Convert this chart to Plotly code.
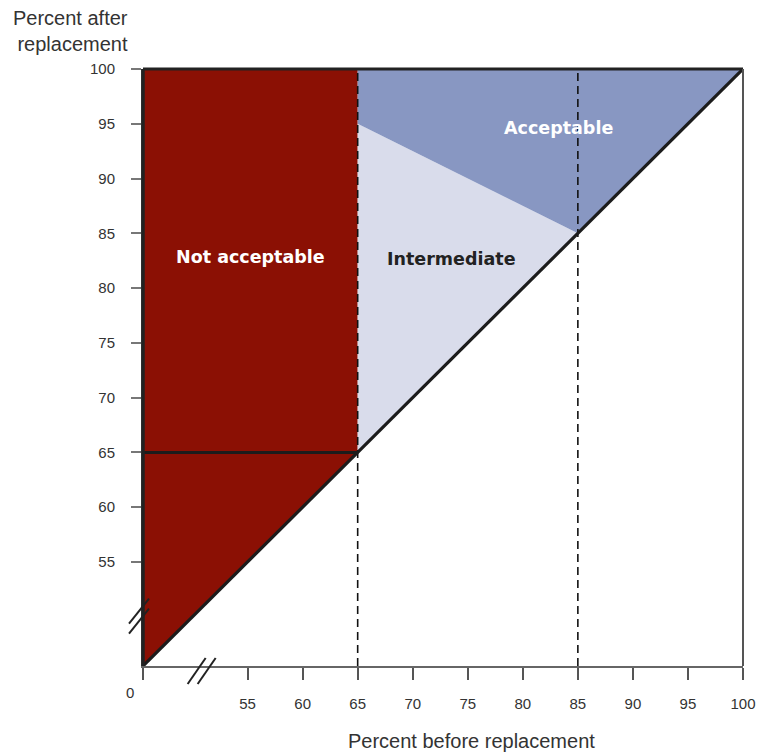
import plotly.graph_objects as go

# ---- data ----
axis_start = 45.5            # position of the broken-axis origin ("0")
axis_end = 100
tick_values = [55, 60, 65, 70, 75, 80, 85, 90, 95, 100]
tick_labels = ["55", "60", "65", "70", "75", "80", "85", "90", "95", "100"]
low_cut = 65                 # below this "before" value -> not acceptable
high_cut = 85                # dashed guide
acc_line_x = [65, 85]        # boundary between intermediate and acceptable
acc_line_y = [95, 85]

red_x = [axis_start, axis_start, low_cut, low_cut, axis_start]
red_y = [axis_start, axis_end, axis_end, low_cut, axis_start]
mid_x = [low_cut, acc_line_x[0], acc_line_x[1], low_cut]
mid_y = [low_cut, acc_line_y[0], acc_line_y[1], low_cut]
acc_x = [acc_line_x[0], acc_line_x[0], axis_end, acc_line_x[1], acc_line_x[0]]
acc_y = [acc_line_y[0], axis_end, axis_end, acc_line_y[1], acc_line_y[0]]

region_labels = ["Not acceptable", "Intermediate", "Acceptable"]
label_x = [55.3, 73.5, 83.2]
label_y = [82.8, 82.7, 94.6]
label_colors = ["white", "#222222", "white"]

RED = "#8B1004"
BLUE = "#8897C2"
LIGHT = "#D9DCEB"
FONT = "Liberation Sans, Arial, sans-serif"
BOLD_FONT = "DejaVu Sans, sans-serif"

W, H = 761, 752
ML, MR, MT, MB = 143, 18, 69, 86
PW, PH = W - ML - MR, H - MT - MB
span = axis_end - axis_start

fig = go.Figure()
fig.add_trace(go.Scatter(x=red_x, y=red_y, fill="toself", fillcolor=RED,
                         line=dict(width=0), mode="lines", hoverinfo="skip"))
fig.add_trace(go.Scatter(x=mid_x, y=mid_y, fill="toself", fillcolor=LIGHT,
                         line=dict(width=0), mode="lines", hoverinfo="skip"))
fig.add_trace(go.Scatter(x=acc_x, y=acc_y, fill="toself", fillcolor=BLUE,
                         line=dict(width=0), mode="lines", hoverinfo="skip"))
# dashed guides
for xv in [low_cut, high_cut]:
    fig.add_trace(go.Scatter(x=[xv, xv], y=[axis_start, axis_end], mode="lines",
                             line=dict(color="#111111", width=1.6, dash="8px,5px"),
                             hoverinfo="skip"))
# diagonal and horizontal lines
fig.add_trace(go.Scatter(x=[axis_start, axis_end], y=[axis_start, axis_end], mode="lines",
                         line=dict(color="#1c1c1c", width=3.2), hoverinfo="skip"))
fig.add_trace(go.Scatter(x=[axis_start, low_cut], y=[low_cut, low_cut], mode="lines",
                         line=dict(color="#1c1c1c", width=3), hoverinfo="skip"))

for t, xv, yv, c in zip(region_labels, label_x, label_y, label_colors):
    fig.add_annotation(x=xv, y=yv, text="<b>" + t + "</b>", showarrow=False,
                       font=dict(family=BOLD_FONT, size=17.5, color=c))

# frame: left thick black, top black, right grey
shapes = [
    dict(type="line", xref="paper", yref="paper", x0=0, x1=0, y0=0, y1=1,
         line=dict(color="#222222", width=3.5)),
    dict(type="line", xref="paper", yref="paper", x0=0, x1=1, y0=1, y1=1,
         line=dict(color="#222222", width=3)),
    dict(type="line", xref="paper", yref="paper", x0=1, x1=1, y0=0, y1=1,
         line=dict(color="#555555", width=2)),
]
# axis break marks (paper coords, so they are not clipped)
ybreak_anchor = 50.2
xbreak_anchor = 51.1
yb = (ybreak_anchor - axis_start) / span
xb = (xbreak_anchor - axis_start) / span
for off in [5, -5]:
    shapes.append(dict(type="line", xref="paper", yref="paper",
                       x0=-14 / PW, y0=yb + (off - 14) / PH,
                       x1=6 / PW, y1=yb + (off + 11) / PH,
                       line=dict(color="#222222", width=2)))
for off in [-5, 5]:
    shapes.append(dict(type="line", xref="paper", yref="paper",
                       x0=xb + (off - 12) / PW, y0=-18 / PH,
                       x1=xb + (off + 6) / PW, y1=8 / PH,
                       line=dict(color="#222222", width=2)))
fig.update_layout(shapes=shapes)

# origin label and axis titles
fig.add_annotation(xref="paper", yref="paper", x=0, y=0, xshift=-13, yshift=-26,
                   xanchor="center", yanchor="middle",
                   text="0", showarrow=False, font=dict(family=FONT, size=15, color="#333333"))
fig.add_annotation(xref="paper", yref="paper", x=-0.022, y=1.108, xanchor="right", yanchor="top",
                   align="right", text="Percent after<br>replacement", showarrow=False,
                   font=dict(family=FONT, size=20, color="#333333"))
fig.add_annotation(xref="paper", yref="paper", x=0.547, y=-0.126, xanchor="center", yanchor="middle",
                   text="Percent before replacement", showarrow=False,
                   font=dict(family=FONT, size=20, color="#333333"))

fig.update_xaxes(range=[axis_start, axis_end], tickvals=[axis_start] + tick_values,
                 ticktext=[""] + tick_labels, ticks="outside", ticklen=12, tickwidth=1.5,
                 tickcolor="#555555", showgrid=False, zeroline=False, automargin=False,
                 showline=True, linecolor="#666666", linewidth=2,
                 tickfont=dict(family=FONT, size=15, color="#333333"),
                 ticklabelstandoff=11)
fig.update_yaxes(range=[axis_start, axis_end], tickvals=tick_values, ticktext=tick_labels,
                 ticks="outside", ticklen=10, tickwidth=1.5, tickcolor="#777777",
                 showgrid=False, zeroline=False, automargin=False,
                 showline=True, linecolor="#555555", linewidth=2, mirror=False,
                 tickfont=dict(family=FONT, size=15, color="#333333"),
                 ticklabelstandoff=13)

fig.update_layout(width=W, height=H, showlegend=False, autosize=False,
                  margin=dict(l=ML, r=MR, t=MT, b=MB),
                  plot_bgcolor="white", paper_bgcolor="white")
fig.write_html("out.html", config={"displayModeBar": False, "responsive": False},
               post_script="document.body.style.margin='0';document.body.style.overflow='hidden';")
